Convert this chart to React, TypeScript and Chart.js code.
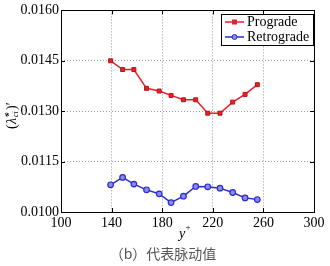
import React, { useEffect, useRef } from "react";
import { Chart, registerables } from "chart.js";

Chart.register(...registerables);

const proX = [139.2, 148.7, 157.6, 167.6, 177.6, 187.0, 196.8, 206.5, 216.0, 225.7, 235.7, 245.5, 255.2];
const proY = [0.0145, 0.01424, 0.01424, 0.01368, 0.0136, 0.01347, 0.01334, 0.01334, 0.01294, 0.01294, 0.01327, 0.0135, 0.01379];
const retX = [139.2, 148.7, 157.6, 167.6, 177.6, 187.0, 196.8, 206.5, 216.0, 225.7, 235.7, 245.5, 255.2];
const retY = [0.01081, 0.01103, 0.01083, 0.01066, 0.01054, 0.01028, 0.01047, 0.01076, 0.01075, 0.01071, 0.01058, 0.01042, 0.01037];
const xTicks = [100, 140, 180, 220, 260, 300];
const yTicks = [0.01, 0.0115, 0.013, 0.0145, 0.016];
const seriesNames = ["Prograde", "Retrograde"];
const xTitle = "y";
const caption = "（b）代表脉动值";

const RED = "#e3232b";
const BLUE = "#2b2bcf";
const SERIF = "'Liberation Serif', 'DejaVu Serif', serif";

const decor = {
  id: "decor",
  afterDatasetsDraw(chart: any) {
    const { ctx, chartArea: a, scales } = chart;
    const xs = scales.x, ys = scales.y;
    ctx.save();
    ctx.strokeStyle = "#000";
    ctx.lineWidth = 1;
    ctx.strokeRect(Math.round(a.left) + 0.5, Math.round(a.top) + 0.5, Math.round(a.right - a.left), Math.round(a.bottom - a.top));
    const tl = 4;
    xTicks.forEach((v) => {
      const px = Math.round(xs.getPixelForValue(v)) + 0.5;
      ctx.beginPath();
      ctx.moveTo(px, a.bottom); ctx.lineTo(px, a.bottom - tl);
      ctx.moveTo(px, a.top); ctx.lineTo(px, a.top + tl);
      ctx.stroke();
    });
    yTicks.forEach((v) => {
      const py = Math.round(ys.getPixelForValue(v)) + 0.5;
      ctx.beginPath();
      ctx.moveTo(a.left, py); ctx.lineTo(a.left + tl, py);
      ctx.moveTo(a.right, py); ctx.lineTo(a.right - tl, py);
      ctx.stroke();
    });
    // legend
    const lx = 221, ly = 14, lw = 92, lh = 31;
    ctx.fillStyle = "#fff";
    ctx.fillRect(lx, ly, lw, lh);
    ctx.strokeStyle = "#000";
    ctx.strokeRect(lx + 0.5, ly + 0.5, lw, lh);
    const rows = [
      { name: seriesNames[0], color: RED, y: 22, shape: "rect" },
      { name: seriesNames[1], color: BLUE, y: 37, shape: "circle" },
    ];
    rows.forEach((r) => {
      ctx.strokeStyle = r.color;
      ctx.lineWidth = 1.5;
      ctx.beginPath();
      ctx.moveTo(225, r.y); ctx.lineTo(244, r.y);
      ctx.stroke();
      ctx.lineWidth = 1;
      if (r.shape === "rect") {
        ctx.fillStyle = r.color;
        ctx.fillRect(232, r.y - 2.5, 5, 5);
      } else {
        ctx.fillStyle = "#8a8af0";
        ctx.beginPath();
        ctx.arc(234.5, r.y, 2.5, 0, Math.PI * 2);
        ctx.fill();
        ctx.stroke();
      }
      ctx.fillStyle = "#000";
      ctx.font = `14px ${SERIF}`;
      ctx.textAlign = "left";
      ctx.textBaseline = "middle";
      ctx.fillText(r.name, 247, r.y);
    });
    // x title
    ctx.fillStyle = "#000";
    ctx.font = `italic 14px ${SERIF}`;
    ctx.textAlign = "center";
    ctx.textBaseline = "middle";
    ctx.fillText(xTitle, 182, 234);
    ctx.font = `9px ${SERIF}`;
    ctx.fillText("+", 188, 228);
    // caption
    ctx.fillStyle = "#555";
    ctx.font = `14px 'Noto Sans CJK SC', serif`;
    ctx.fillText(caption, 163, 254);
    // y title
    ctx.save();
    ctx.translate(12, 115);
    ctx.rotate(-Math.PI / 2);
    ctx.fillStyle = "#000";
    ctx.textAlign = "left";
    ctx.font = `14px ${SERIF}`;
    ctx.fillText("(", -14, 0);
    ctx.font = `italic 14px ${SERIF}`;
    ctx.fillText("λ̃", -9, 0);
    ctx.font = `italic 8px ${SERIF}`;
    ctx.fillText("ci", -2, 4);
    ctx.fillText("z", -1, -5);
    ctx.font = `14px ${SERIF}`;
    ctx.fillText(")′", 5, 0);
    ctx.restore();
    ctx.restore();
  },
};

export default function App() {
  const ref = useRef<HTMLCanvasElement>(null);
  useEffect(() => {
    document.body.style.margin = "0";
    const chart = new Chart(ref.current as HTMLCanvasElement, {
      type: "line",
      data: {
        datasets: [
          {
            label: seriesNames[0],
            data: proX.map((x, i) => ({ x, y: proY[i] })),
            borderColor: RED,
            backgroundColor: RED,
            borderWidth: 1.5,
            pointStyle: "rect",
            pointRadius: 2.8,
            pointBorderColor: "#c01018",
            pointBorderWidth: 1,
          },
          {
            label: seriesNames[1],
            data: retX.map((x, i) => ({ x, y: retY[i] })),
            borderColor: BLUE,
            backgroundColor: "#8a8af0",
            borderWidth: 1.5,
            pointStyle: "circle",
            pointRadius: 2.8,
            pointBorderColor: BLUE,
            pointBorderWidth: 1.2,
          },
        ],
      },
      options: {
        animation: false,
        responsive: false,
        devicePixelRatio: 1,
        layout: { padding: { left: 0, right: 16, top: 10, bottom: 0 } },
        plugins: { legend: { display: false }, tooltip: { enabled: false } },
        scales: {
          x: {
            type: "linear",
            min: 100,
            max: 300,
            afterFit: (s: any) => { s.height = 54; },
            afterBuildTicks: (s: any) => { s.ticks = xTicks.map((v) => ({ value: v })); },
            border: { display: false, dash: [1, 2] },
            grid: { color: "#9a9a9a", lineWidth: 1, drawTicks: false },
            ticks: {
              padding: 3,
              color: "#000",
              font: { family: SERIF, size: 14 },
              maxRotation: 0,
              callback: (v: any) => String(v),
            },
          },
          y: {
            min: 0.01,
            max: 0.016,
            afterFit: (s: any) => { s.width = 61; },
            afterBuildTicks: (s: any) => { s.ticks = yTicks.map((v) => ({ value: v })); },
            border: { display: false, dash: [1, 2] },
            grid: { color: "#9a9a9a", lineWidth: 1, drawTicks: false },
            ticks: {
              padding: 2,
              color: "#000",
              font: { family: SERIF, size: 14 },
              callback: (v: any) => Number(v).toFixed(4),
            },
          },
        },
      },
      plugins: [decor],
    } as any);
    return () => chart.destroy();
  }, []);
  return <canvas ref={ref} width={330} height={266} style={{ display: "block" }} />;
}
